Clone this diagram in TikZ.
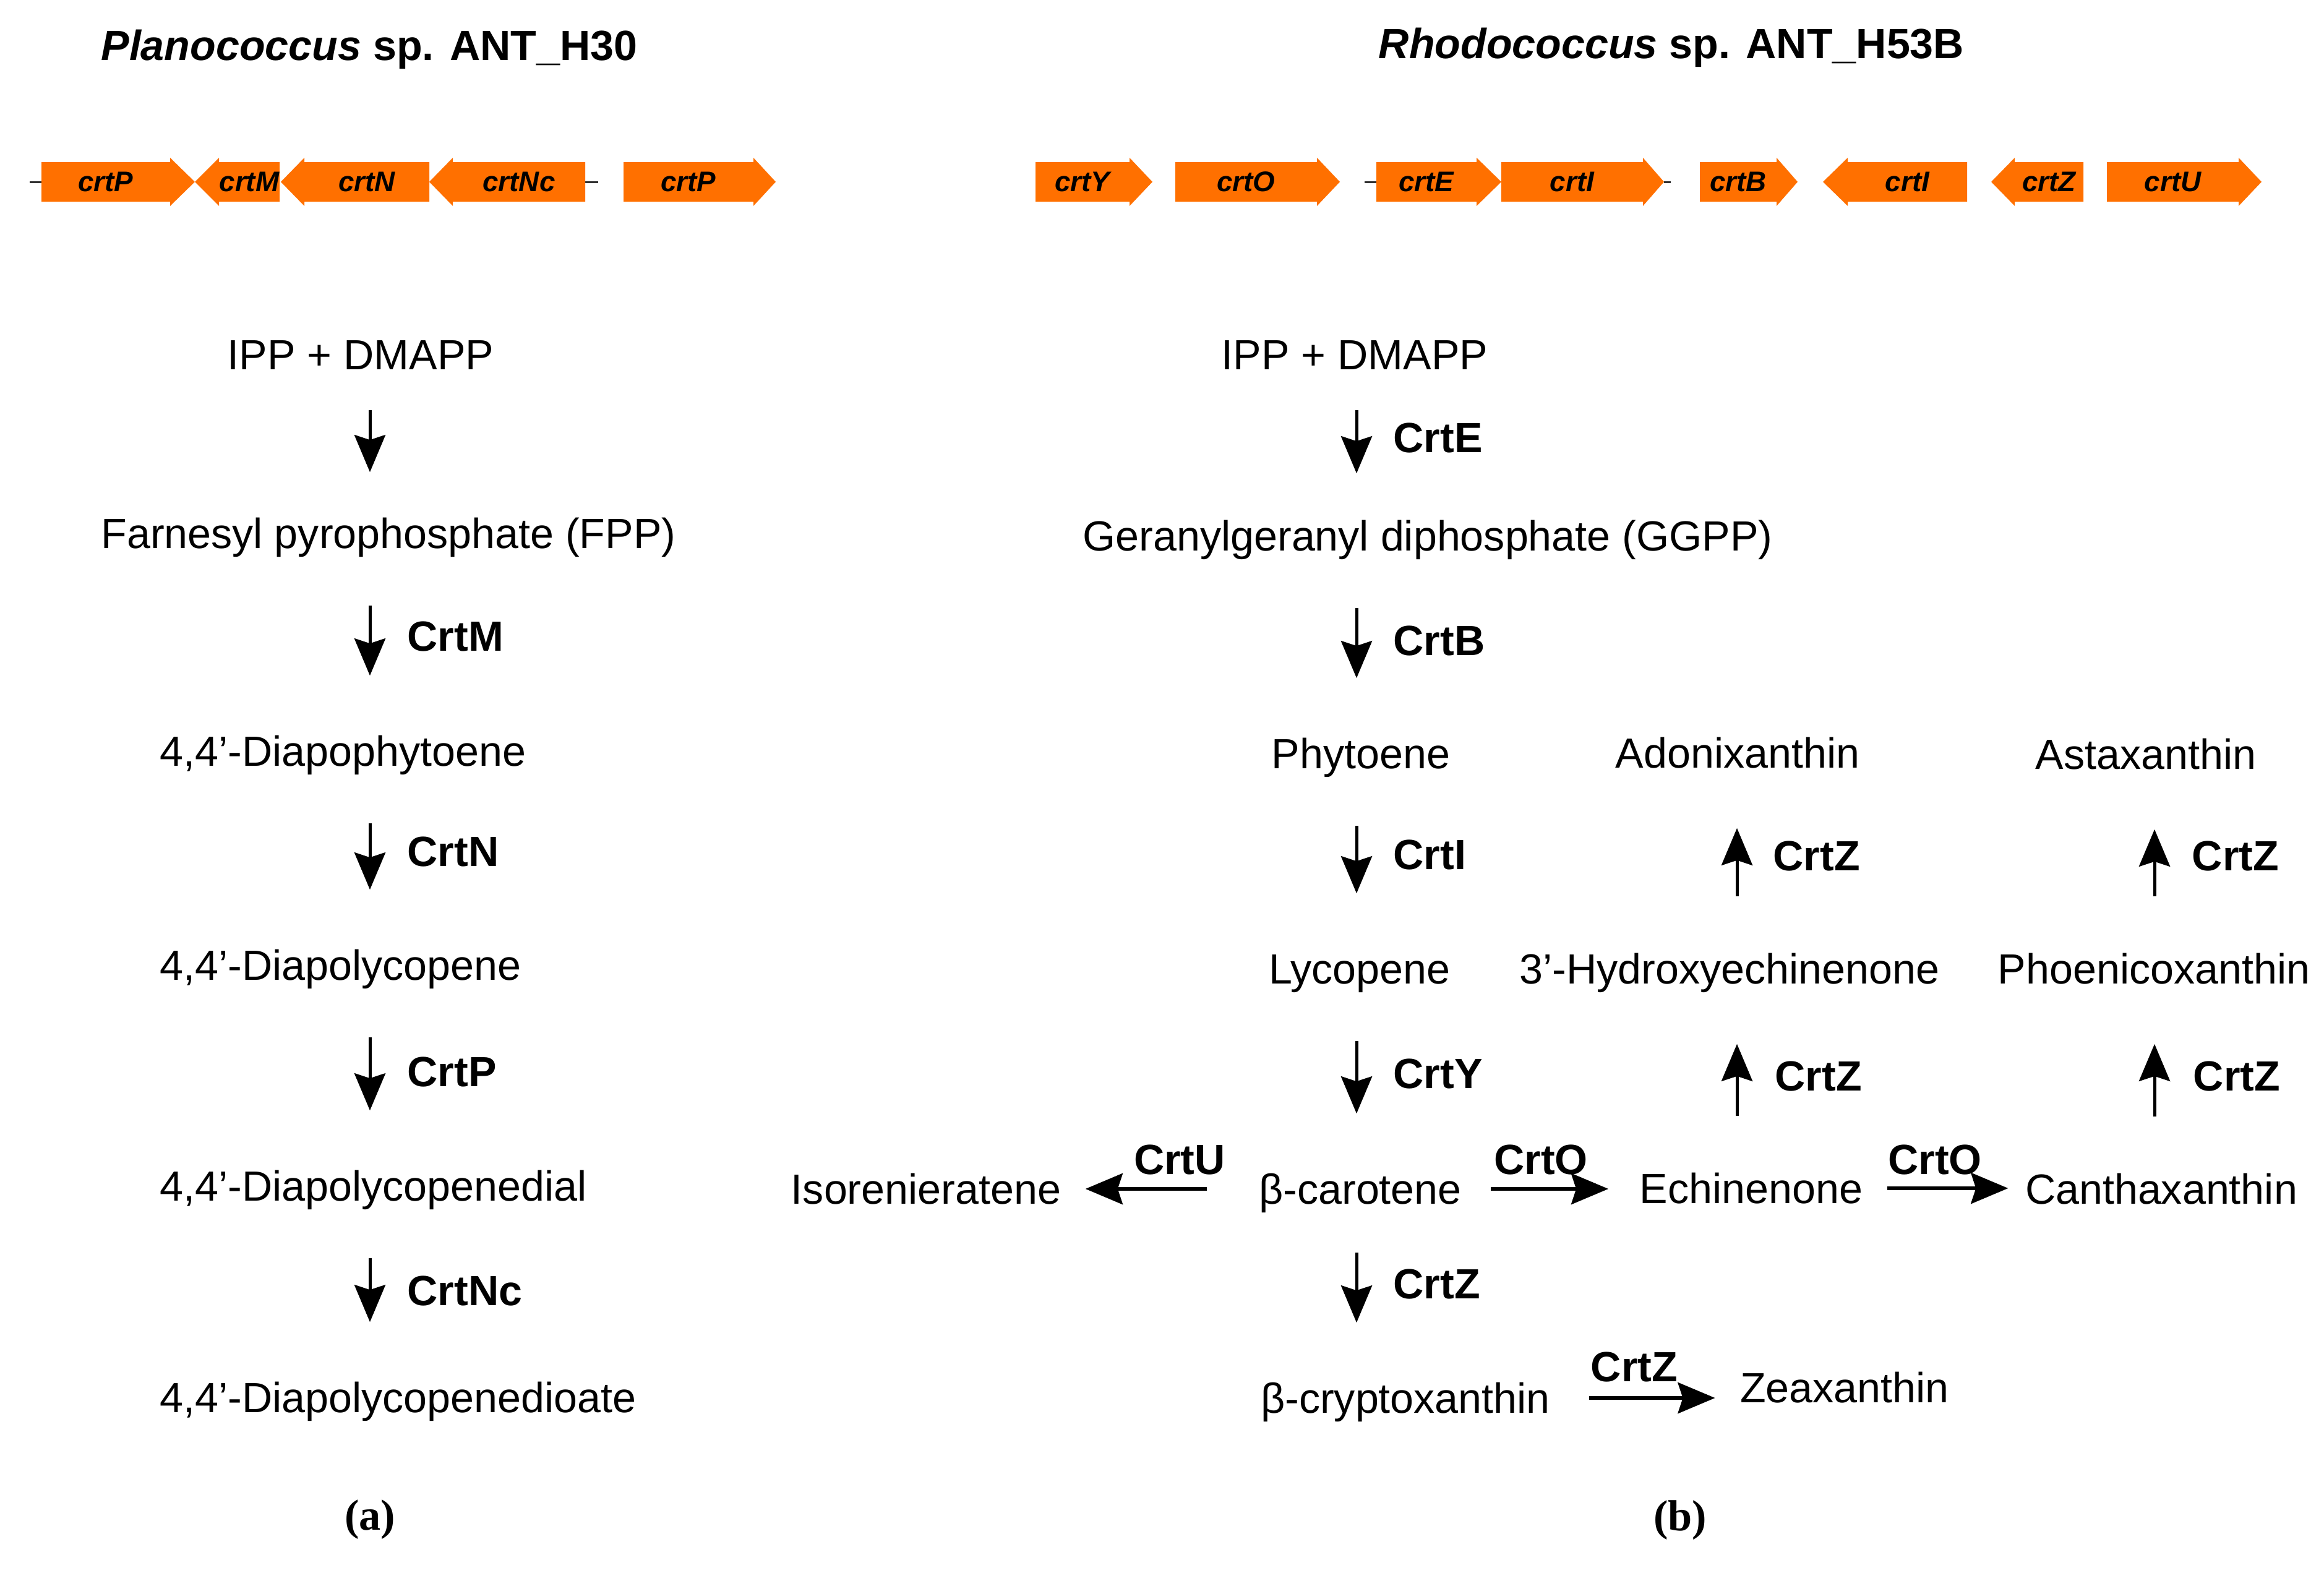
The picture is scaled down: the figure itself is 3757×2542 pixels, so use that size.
\documentclass[tikz,border=0pt]{standalone}
\usepackage{fontspec}
\setmainfont{Liberation Sans}
\newfontfamily\tnr{Liberation Serif}
\usetikzlibrary{arrows.meta}
\begin{document}
\begin{tikzpicture}[x=0.01cm,y=-0.01cm]

      % page of 3757 x 2542 units (0.01cm each), y runs downwards
      \useasboundingbox (0,0) rectangle (3757,2542);

      \definecolor{gene}{RGB}{255,112,0}
      % text nodes: box is exactly the cap height, so the centre is the middle of the capitals
      \tikzstyle{txt}=[inner sep=0pt, text height=0.48cm, text depth=0pt, font=\fontsize{19.4}{23}\selectfont]
      \tikzstyle{enz}=[txt, anchor=west, font=\fontsize{19.4}{23}\selectfont\bfseries]
      \tikzstyle{title}=[txt, font=\fontsize{19.4}{23}\selectfont\bfseries]
      \tikzstyle{capt}=[inner sep=0pt, font=\fontsize{20}{24}\selectfont\tnr\bfseries]
      \tikzstyle{gname}=[inner sep=0pt, font=\fontsize{13}{15}\selectfont\bfseries\itshape]
      \tikzstyle{rx}=[-{Stealth[length=0.6cm,width=0.5cm,inset=0.08cm]}, line width=0.05cm, shorten <=0.92cm, shorten >=0.97cm]
      \tikzstyle{hx}=[rx, line width=0.055cm]

      \def\gy{294}    % centre line of the gene row
      \def\hb{32}     % half height of a gene body
      \def\hh{39}     % half height of a gene head

      % titles
      \node[title] (tA) at (597,73) {{\itshape Planococcus} sp. ANT\_H30};
      \node[title] (tB) at (2702,70) {{\itshape Rhodococcus} sp. ANT\_H53B};

      % gene clusters
      \foreach \xa/\xe in {48/67, 946/967, 2206/2225, 2690/2701}
        \draw[line width=0.03cm, black!80] (\xa,\gy) -- (\xe,\gy);
      \foreach \xa/\xb/\xc/\g [count=\i] in {67/275/315/crtP, 1008/1218/1254/crtP, 1674/1826/1863/crtY, 1900/2129/2166/crtO, 2225/2387/2427/crtE, 2427/2656/2690/crtI, 2748/2872/2906/crtB, 3406/3619/3656/crtU}{
        \fill[gene] (\xa,\gy-\hb) -- (\xb,\gy-\hb) -- (\xb,\gy-\hh) -- (\xc,\gy) -- (\xb,\gy+\hh) -- (\xb,\gy+\hb) -- (\xa,\gy+\hb) -- cycle;
        \node[gname] (gr\i) at ({(\xa+\xb)/2},\gy) {\g};
      }
      \foreach \xa/\xb/\xc/\g [count=\i] in {315/354/452/crtM, 454/492/694/crtN, 694/732/946/crtNc, 2947/2987/3180/crtI, 3219/3257/3368/crtZ}{
        \fill[gene] (\xa,\gy) -- (\xb,\gy-\hh) -- (\xb,\gy-\hb) -- (\xc,\gy-\hb) -- (\xc,\gy+\hb) -- (\xb,\gy+\hb) -- (\xb,\gy+\hh) -- cycle;
        \node[gname] (gl\i) at ({(\xb+\xc)/2},\gy) {\g};
      }

      % arrow columns
      \coordinate (cA) at (598,0);
      \coordinate (cB) at (2193,0);
      \coordinate (cC) at (2808,0);
      \coordinate (cD) at (3483,0);

      % (a) Planococcus pathway
      \node[txt] (ippA) at (583,573) {IPP + DMAPP};
      \node[txt] (fpp) at (628,862) {Farnesyl pyrophosphate (FPP)};
      \node[txt, anchor=west] (dpt) at (258,1214) {4,4’-Diapophytoene};
      \node[txt, anchor=west] (dpc) at (258,1560) {4,4’-Diapolycopene};
      \node[txt, anchor=west] (dpal) at (258,1917) {4,4’-Diapolycopenedial};
      \node[txt, anchor=west] (dpac) at (258,2259) {4,4’-Diapolycopenedioate};
      \node[capt] (capA) at (598,2457) {(a)};

      \draw[rx, shorten <=0.65cm, shorten >=0.74cm] (ippA.south -| cA) -- (fpp.north -| cA);
      \draw[rx] (fpp.south -| cA) -- (dpt.north -| cA);
      \draw[rx] (dpt.south -| cA) -- (dpc.north -| cA);
      \draw[rx] (dpc.south -| cA) -- (dpal.north -| cA);
      \draw[rx] (dpal.south -| cA) -- (dpac.north -| cA);

      \node[enz] (eM) at (658,1028) {CrtM};
      \node[enz] (eN) at (658,1376) {CrtN};
      \node[enz] (eP) at (658,1732) {CrtP};
      \node[enz] (eNc) at (658,2086) {CrtNc};

      % (b) Rhodococcus pathway
      \node[txt] (ippB) at (2190,573) {IPP + DMAPP};
      \node[txt] (ggpp) at (2308,866) {Geranylgeranyl diphosphate (GGPP)};
      \node[txt] (phy) at (2200,1218) {Phytoene};
      \node[txt] (lyc) at (2198,1566) {Lycopene};
      \node[txt] (bcar) at (2199,1922) {β-carotene};
      \node[txt] (bcry) at (2272,2260) {β-cryptoxanthin};
      \node[txt] (iso) at (1497,1922) {Isorenieratene};
      \node[txt] (ech) at (2831,1921) {Echinenone};
      \node[txt] (can) at (3494,1922) {Canthaxanthin};
      \node[txt] (hech) at (2796,1566) {3’-Hydroxyechinenone};
      \node[txt] (phoe) at (3482,1566) {Phoenicoxanthin};
      \node[txt] (adon) at (2809,1217) {Adonixanthin};
      \node[txt] (asta) at (3469,1219) {Astaxanthin};
      \node[txt] (zea) at (2982,2243) {Zeaxanthin};
      \node[capt] (capB) at (2716,2458) {(b)};

      \draw[rx, shorten <=0.65cm, shorten >=0.76cm] (ippB.south -| cB) -- (ggpp.north -| cB);
      \draw[rx] (ggpp.south -| cB) -- (phy.north -| cB);
      \draw[rx] (phy.south -| cB) -- (lyc.north -| cB);
      \draw[rx] (lyc.south -| cB) -- (bcar.north -| cB);
      \draw[rx, shorten <=0.78cm] (bcar.south -| cB) -- (bcry.north -| cB);
      \draw[rx] (ech.north -| cC) -- (hech.south -| cC);
      \draw[rx] (hech.north -| cC) -- (adon.south -| cC);
      \draw[rx] (can.north -| cD) -- (phoe.south -| cD);
      \draw[rx] (phoe.north -| cD) -- (asta.south -| cD);
      \draw[hx, shorten <=0.84cm, shorten >=0.39cm] (bcar.west) -- (bcar.west -| iso.east);
      \draw[hx, shorten <=0.47cm, shorten >=0.50cm] (bcar.east) -- (bcar.east -| ech.west);
      \draw[hx, shorten <=0.39cm, shorten >=0.27cm] (ech.east) -- (ech.east -| can.west);
      \draw[hx, shorten <=0.62cm, shorten >=0.40cm] (bcry.east) -- (bcry.east -| zea.west);

      \node[enz] (eE) at (2252,707) {CrtE};
      \node[enz] (eB) at (2252,1035) {CrtB};
      \node[enz] (eI) at (2252,1381) {CrtI};
      \node[enz] (eY) at (2252,1735) {CrtY};
      \node[enz] (eZ1) at (2252,2075) {CrtZ};
      \node[enz] (eZ2) at (2866,1383) {CrtZ};
      \node[enz] (eZ3) at (3543,1383) {CrtZ};
      \node[enz] (eZ4) at (2869,1739) {CrtZ};
      \node[enz] (eZ5) at (3545,1739) {CrtZ};
      \node[enz, anchor=center] (eU) at (1907,1874) {CrtU};
      \node[enz, anchor=center] (eO1) at (2491,1874) {CrtO};
      \node[enz, anchor=center] (eO2) at (3128,1874) {CrtO};
      \node[enz, anchor=center] (eZ6) at (2642,2209) {CrtZ};

\end{tikzpicture}
\end{document}
